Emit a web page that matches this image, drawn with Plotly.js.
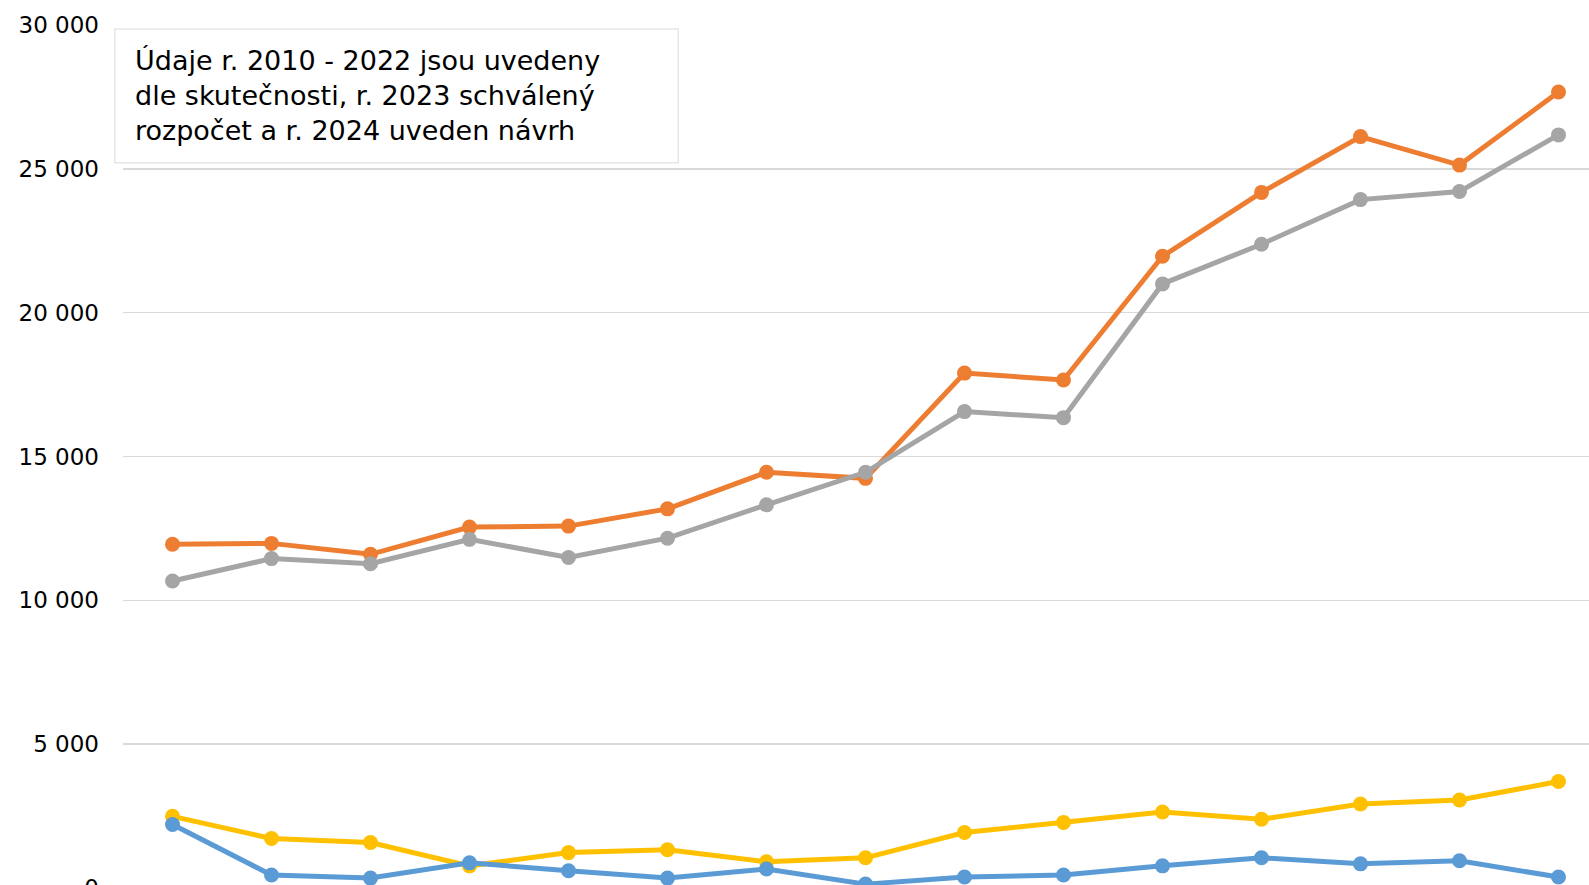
<!DOCTYPE html>
<html>
<head>
<meta charset="utf-8">
<script src="https://cdn.plot.ly/plotly-3.0.1.min.js"></script>
<style>
html,body{margin:0;padding:0;width:1589px;height:885px;overflow:hidden;background:#fff;}
#chart{width:1628px;height:908px;}
</style>
</head>
<body>
<div id="chart"></div>
<script>
const years = ['2010','2011','2012','2013','2014','2015','2016','2017','2018','2019','2020','2021','2022','2023','2024'];
const orangeVals = [11950, 11980, 11600, 12545, 12580, 13180, 14450, 14240, 17900, 17660, 21960, 24180, 26120, 25130, 27670];
const grayVals   = [10670, 11450, 11270, 12120, 11490, 12160, 13320, 14450, 16560, 16350, 21000, 22380, 23930, 24210, 26180];
const yellowVals = [2490, 1720, 1580, 770, 1230, 1330, 910, 1050, 1930, 2280, 2640, 2390, 2920, 3060, 3700];
const blueVals   = [2210, 450, 345, 875, 600, 345, 660, 135, 380, 450, 770, 1050, 840, 945, 380];
const yTicks = [0, 5000, 10000, 15000, 20000, 25000, 30000];
const noteText = 'Údaje r. 2010 - 2022 jsou uvedeny<br>dle skutečnosti, r. 2023 schválený<br>rozpočet a r. 2024 uveden návrh';

function series(vals, color){
  return {x: years, y: vals, type:'scatter', mode:'lines+markers',
    line:{color:color, width:5}, marker:{color:color, size:15},
    cliponaxis:false, hoverinfo:'skip', showlegend:false};
}
const data = [
  series(orangeVals, '#ED7D31'),
  series(grayVals, '#A5A5A5'),
  series(yellowVals, '#FFC000'),
  series(blueVals, '#5B9BD5')
];
const font = 'DejaVu Sans, Verdana, sans-serif';
const layout = {
  width:1628, height:908,
  margin:{l:123, r:20, t:25, b:20},
  paper_bgcolor:'#fff', plot_bgcolor:'#fff',
  separators:', ',
  font:{family:font, size:23, color:'#000'},
  xaxis:{type:'category', range:[-0.5,14.5], showgrid:false, zeroline:false, showline:false, showticklabels:false, ticks:''},
  yaxis:{range:[0,30000], tickvals:yTicks, tickformat:',d', showgrid:true, gridcolor:'#D9D9D9', gridwidth:1.5,
    zeroline:false, showline:false, ticks:'', ticklabelstandoff:23, tickfont:{family:font, size:23, color:'#000'}},
  shapes:[{
    type:'rect', xref:'paper', yref:'paper', x0:-0.0056, x1:0.3739, y0:0.8404, y1:0.9953,
    line:{color:'#E6E6E6', width:1.5}, fillcolor:'#fff', layer:'above'
  }],
  annotations:[{
    xref:'paper', yref:'paper', x:0.0068, y:0.9178, xanchor:'left', yanchor:'middle',
    text:noteText, showarrow:false, align:'left',
    font:{family:font, size:27, color:'#000'}
  }]
};
Plotly.newPlot('chart', data, layout, {displayModeBar:false, staticPlot:true});
</script>
</body>
</html>
